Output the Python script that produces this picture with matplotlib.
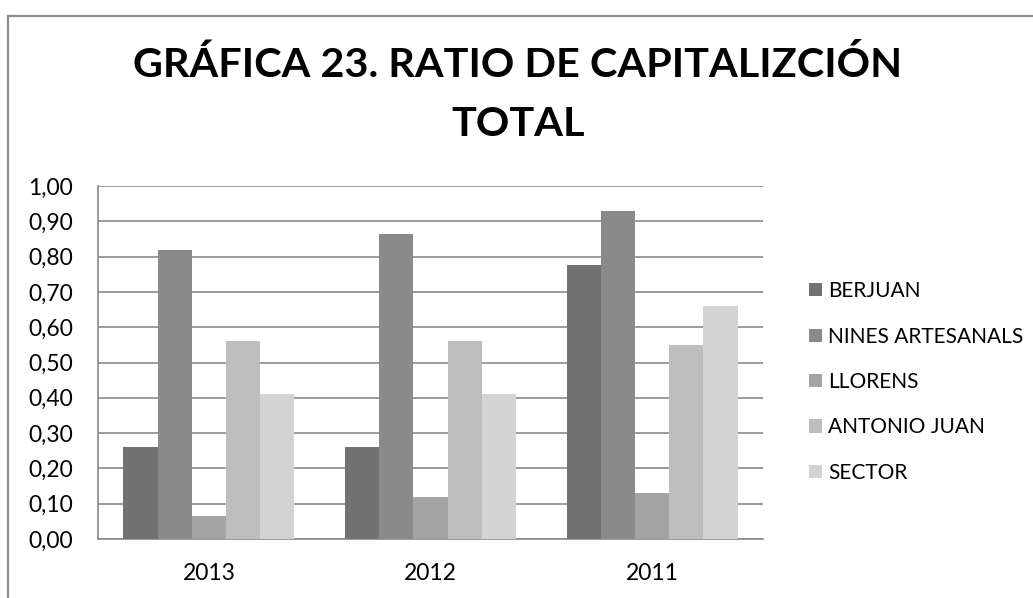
import matplotlib
matplotlib.use("Agg")
import matplotlib.pyplot as plt
from matplotlib.lines import Line2D
import numpy as np

plt.rcParams['font.family'] = ['Lato', 'DejaVu Sans']

title = "GRÁFICA 23. RATIO DE CAPITALIZCIÓN\nTOTAL"
years = ["2013", "2012", "2011"]
series_names = ["BERJUAN", "NINES ARTESANALS", "LLORENS", "ANTONIO JUAN", "SECTOR"]
berjuan = [0.26, 0.26, 0.775]
nines = [0.82, 0.865, 0.93]
llorens = [0.065, 0.12, 0.13]
antonio = [0.56, 0.56, 0.55]
sector = [0.41, 0.41, 0.66]
yticks = [0.0, 0.1, 0.2, 0.3, 0.4, 0.5, 0.6, 0.7, 0.8, 0.9, 1.0]
ytick_labels = ["0,00", "0,10", "0,20", "0,30", "0,40", "0,50", "0,60", "0,70", "0,80", "0,90", "1,00"]

colors = ["#727272", "#8a8a8a", "#a3a3a3", "#bdbdbd", "#d3d3d3"]
values = [berjuan, nines, llorens, antonio, sector]

W, H = 1033, 598
fig = plt.figure(figsize=(W / 100, H / 100), dpi=100)
ax = fig.add_axes([98 / W, 1 - 539 / H, (763 - 98) / W, (539 - 186) / H])

x = np.arange(len(years))
bw = 0.154
for i, (vals, name, c) in enumerate(zip(values, series_names, colors)):
    ax.bar(x + (i - 2) * bw, vals, width=bw, color=c, label=name, zorder=3, linewidth=0)

ax.set_xlim(-0.5, 2.5)
ax.set_ylim(0, 1.0)
ax.set_yticks(yticks)
ax.set_yticklabels(ytick_labels)
ax.set_xticks(x)
ax.set_xticklabels(years)
ax.tick_params(axis='both', length=0, labelsize=16.5, colors='black')
ax.tick_params(axis='y', pad=18)
ax.tick_params(axis='x', pad=17)
ax.yaxis.grid(True, color='#8a8a8a', linewidth=1.2, zorder=1)
for s in ['top', 'right']:
    ax.spines[s].set_visible(False)
for s in ['left', 'bottom']:
    ax.spines[s].set_color('#8a8a8a')
    ax.spines[s].set_linewidth(1.2)

leg = ax.legend(loc='center left', bbox_to_anchor=(801 / W, 1 - 382 / H),
                bbox_transform=fig.transFigure, frameon=False, fontsize=15,
                handlelength=0.6, handleheight=0.6, handletextpad=0.3,
                labelspacing=1.22, borderaxespad=0)

fig.text(518 / W, 1 - 46 / H, title, ha='center', va='top', fontsize=29.8,
         fontweight='bold', linespacing=1.72)

# chart frame
fig.add_artist(Line2D([8 / W, 8 / W], [0, 1 - 15.5 / H], color='#8c8c8c', lw=1.6, transform=fig.transFigure))
fig.add_artist(Line2D([8 / W, 1], [1 - 15.5 / H, 1 - 15.5 / H], color='#8c8c8c', lw=1.6, transform=fig.transFigure))

fig.savefig("out.png", dpi=100)
